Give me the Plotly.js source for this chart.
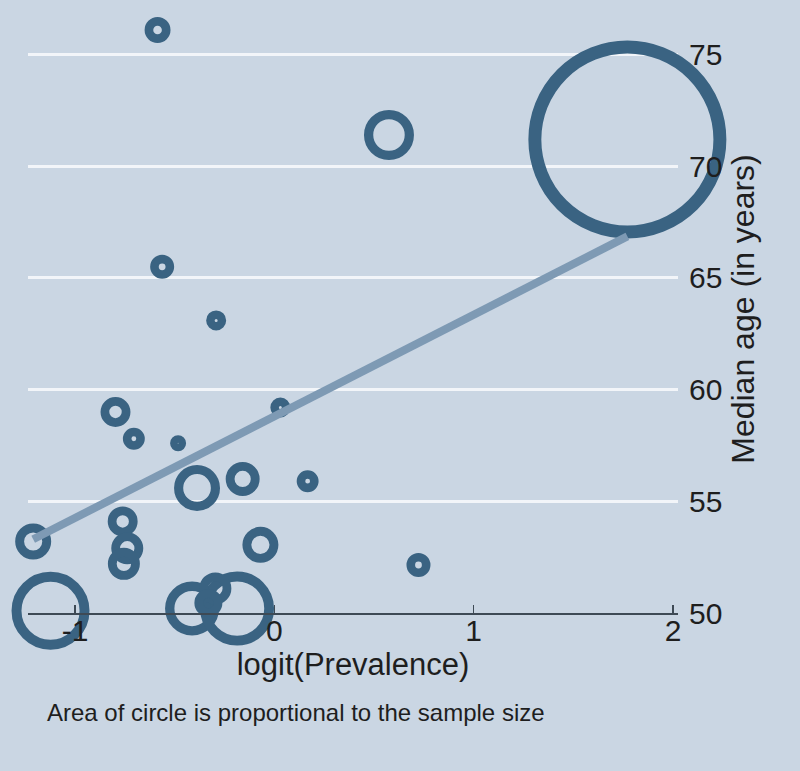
<!DOCTYPE html>
<html>
<head>
<meta charset="utf-8">
<script src="https://cdn.plot.ly/plotly-3.0.1.min.js"></script>
<style>
  html, body { margin: 0; padding: 0; background: #cad6e3; }
  #chart { width: 800px; height: 771px; }
</style>
</head>
<body>
<div id="chart"></div>
<script>
// logit(prevalence), median age and sample size of each study
var logitPrev = [-0.586, 0.575, 1.771, -0.563, -0.292, -0.797, -0.705, -0.483, 0.030, -0.388,
                 -0.159, 0.167, -1.210, -0.761, -0.738, -0.755, -0.070, 0.723, -1.123, -0.413,
                 -0.187, -0.296, -0.331];
var medianAge = [76.1, 71.4, 71.2, 65.5, 63.1, 59.0, 57.8, 57.6, 59.2, 55.6,
                 56.0, 55.9, 53.2, 54.1, 52.9, 52.2, 53.05, 52.15, 50.1, 50.2,
                 50.2, 51.1, 50.45];
var sampleSize = [42, 156, 2450, 36, 25, 56, 30, 16, 25, 132,
                  72, 30, 81, 56, 64, 64, 81, 36, 380, 182,
                  342, 64, 49];

// fitted line end points
var fitX = [-1.21, 1.771];
var fitY = [53.3, 66.86];

var xTicks = [-1, 0, 1, 2];
var yTicks = [50, 55, 60, 65, 70, 75];

var markColor = '#3a6382';
var fitColor = '#7e9ab4';
var bgColor = '#cad6e3';

// area of circle ~ sample size
var outerR = sampleSize.map(function (n) { return 2 * Math.sqrt(n); });
var strokeW = outerR.map(function (r) { return 8 + 0.05 * r; });
var diam = outerR.map(function (r, i) { return 2 * r - strokeW[i]; });

var data = [
    {
        x: logitPrev,
        y: medianAge,
        mode: 'markers',
        type: 'scatter',
        cliponaxis: false,
        marker: {
            symbol: 'circle-open',
            color: markColor,
            opacity: 1,
            size: diam,
            line: { width: strokeW, color: markColor }
        },
        hoverinfo: 'x+y'
    },
    {
        x: fitX,
        y: fitY,
        mode: 'lines',
        type: 'scatter',
        cliponaxis: false,
        line: { color: fitColor, width: 8 },
        hoverinfo: 'skip'
    }
];

var font = 'Liberation Sans, Arial, Helvetica, sans-serif';

var layout = {
    width: 800,
    height: 771,
    margin: { l: 28, r: 122, t: 5, b: 158 },
    paper_bgcolor: bgColor,
    plot_bgcolor: bgColor,
    showlegend: false,
    font: { family: font, color: '#1e1e1e' },
    xaxis: {
        range: [-1.236, 2.025],
        tickvals: xTicks,
        ticktext: xTicks.map(String),
        showgrid: false,
        zeroline: false,
        showline: true,
        linecolor: '#3e4a55',
        linewidth: 2,
        ticks: 'inside',
        ticklen: 8,
        tickwidth: 1.5,
        tickcolor: '#3e4a55',
        ticklabelstandoff: -10,
        tickfont: { size: 30 },
        automargin: false,
        title: { text: 'logit(Prevalence)', font: { size: 31 }, standoff: 0 }
    },
    yaxis: {
        side: 'right',
        range: [50, 77.22],
        tickvals: yTicks,
        showgrid: true,
        gridcolor: '#f2f5f9',
        gridwidth: 3,
        zeroline: false,
        showline: false,
        ticks: '',
        ticklabelstandoff: 10,
        tickfont: { size: 30 },
        automargin: false,
        title: { text: 'Median age (in years)', font: { size: 32 }, standoff: 10 }
    },
    annotations: [
        {
            xref: 'paper', yref: 'paper',
            x: 0.026, y: -0.163,
            xanchor: 'left', yanchor: 'middle',
            text: 'Area of circle is proportional to the sample size',
            showarrow: false,
            font: { size: 24, color: '#1e1e1e' }
        }
    ]
};

Plotly.newPlot('chart', data, layout, { displayModeBar: false, staticPlot: true });
</script>
</body>
</html>
